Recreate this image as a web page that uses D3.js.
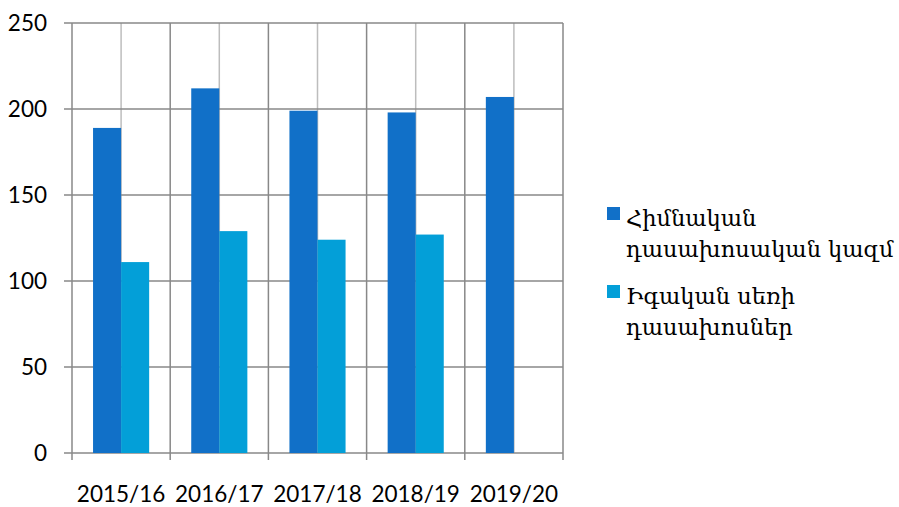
<!DOCTYPE html>
<html><head><meta charset="utf-8">
<script src="https://cdn.jsdelivr.net/npm/d3@7"></script>
<style>body{margin:0;background:#fff}</style>
</head><body>
<svg id="c" width="899" height="507"></svg>
<script>
const categories = ["2015/16","2016/17","2017/18","2018/19","2019/20"];
const seriesNames = [["Հիմնական","դասախոսական կազմ"],["Իգական սեռի","դասախոսներ"]];
const series1 = [189, 212, 199, 198, 207];
const series2 = [111, 129, 124, 127, null];
const yTicks = [0, 50, 100, 150, 200, 250];
const colors = ["#1170C8", "#039FD8"];

const svg = d3.select("#c");
const L = 72, R = 563, T = 23, B = 453;
const x = d3.scaleBand().domain(categories).range([L, R]);
const inner = d3.scaleBand().domain([0,1]).range([0, x.bandwidth()]).paddingInner(0).paddingOuter(0.75);
const y = d3.scaleLinear().domain([0, 250]).range([B, T]);

svg.append("g").selectAll("line").data(categories).join("line")
  .attr("x1", d => x(d) + x.bandwidth()/2).attr("x2", d => x(d) + x.bandwidth()/2)
  .attr("y1", T).attr("y2", B).attr("stroke", "#bdbdbd").attr("stroke-width", 1.5);
svg.append("g").selectAll("line").data(d3.range(categories.length + 1)).join("line")
  .attr("x1", i => L + i * x.step()).attr("x2", i => L + i * x.step())
  .attr("y1", T).attr("y2", B + 7)
  .attr("stroke", "#888").attr("stroke-width", 1.5);
svg.append("g").selectAll("line").data(yTicks).join("line")
  .attr("x1", L - 8).attr("x2", R).attr("y1", d => y(d)).attr("y2", d => y(d))
  .attr("stroke", "#888").attr("stroke-width", 1.5);

const data = [];
categories.forEach((c, i) => {
  [series1[i], series2[i]].forEach((v, s) => { if (v != null) data.push({c, s, v}); });
});
svg.append("g").selectAll("rect").data(data).join("rect")
  .attr("x", d => x(d.c) + inner(d.s)).attr("width", inner.bandwidth())
  .attr("y", d => y(d.v)).attr("height", d => B - y(d.v))
  .attr("fill", d => colors[d.s]);

svg.append("g").selectAll("text").data(yTicks).join("text")
  .attr("x", 47).attr("y", d => y(d)).attr("dy", "0.35em").attr("text-anchor", "end")
  .attr("font-family", "Lato, 'Open Sans', sans-serif").attr("font-size", 22.5).attr("fill", "#000")
  .text(d => d);
svg.append("g").selectAll("text").data(categories).join("text")
  .attr("x", d => x(d) + x.bandwidth()/2).attr("y", 502).attr("text-anchor", "middle")
  .attr("font-family", "Lato, 'Open Sans', sans-serif").attr("font-size", 22.5).attr("fill", "#000")
  .text(d => d);

const lg = svg.append("g");
seriesNames.forEach((lines, i) => {
  const by = 207 + i * 78;
  lg.append("rect").attr("x", 607).attr("y", by).attr("width", 13).attr("height", 13).attr("fill", colors[i]);
  lines.forEach((t, j) => {
    lg.append("text").attr("x", 626).attr("y", by + 19 + j * 31)
      .attr("font-family", "'DejaVu Serif', serif").attr("font-size", 22.5).attr("fill", "#000").text(t);
  });
});
</script>
</body></html>
